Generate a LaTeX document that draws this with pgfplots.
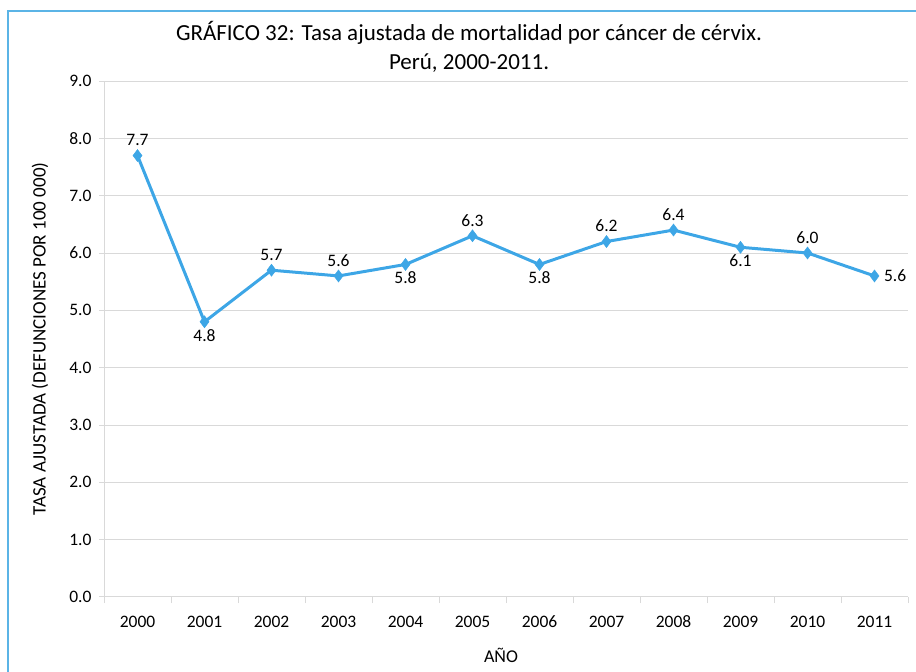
\documentclass[border=0pt]{standalone}
\usepackage{fontspec}
\setmainfont{Carlito}
\usepackage{pgfplots}
\pgfplotsset{compat=1.18}
\definecolor{serie}{RGB}{61,166,230}
\definecolor{framec}{RGB}{91,180,230}
\definecolor{gridc}{RGB}{217,217,217}
\begin{document}
\begin{tikzpicture}[x=1pt,y=1pt]
\path[use as bounding box] (0,0) rectangle (916,672);
\draw[framec, line width=2pt] (8,0) -- (8,661) -- (916,661);
\begin{axis}[
  at={(104pt,75pt)}, anchor=south west,
  scale only axis, width=804pt, height=516pt,
  xmin=-0.5, xmax=11.5, ymin=0, ymax=9,
  axis lines*=left,
  axis line style={gridc, line width=1pt},
  ytick={0,1,...,9},
  xtick={0,1,...,11},
  xticklabels={2000,2001,2002,2003,2004,2005,2006,2007,2008,2009,2010,2011},
  minor xtick={-0.5,0.5,...,11.5},
  tick align=outside,
  major tick length=5pt, minor tick length=6pt,
  major x tick style={draw=none},
  every tick/.style={gridc, line width=1pt},
  minor tick style={gridc, line width=1pt},
  ymajorgrids, grid style={gridc, line width=1pt},
  /pgf/number format/assume math mode=true,
  yticklabel={\pgfmathprintnumber[fixed,fixed zerofill,precision=1]{\tick}},
  yticklabel style={font=\fontsize{17.5}{17.5}\selectfont, xshift=-4pt},
  xticklabel style={font=\fontsize{17.5}{17.5}\selectfont, text height=12pt, text depth=0pt, yshift=-10pt},
  title={GRÁFICO 32: Tasa ajustada de mortalidad por cáncer de cérvix.\\Perú, 2000-2011.},
  title style={font=\fontsize{23}{29}\selectfont, align=center, at={(axis description cs:0.454,1.054)}, anchor=center},
  xlabel={AÑO},
  xlabel style={font=\fontsize{18}{18}\selectfont, at={(axis description cs:0.4938,-0.1124)}, anchor=center},
  ylabel={TASA AJUSTADA (DEFUNCIONES POR 100 000)},
  ylabel style={font=\fontsize{19}{19}\selectfont, at={(axis description cs:-0.0796,0.5)}, rotate=0, anchor=center},
  clip=false,
  nodes near coords style={font=\fontsize{17.5}{17.5}\selectfont, text=black},
]
\addplot[serie, line width=3pt, mark=diamond*, mark size=6pt, mark options={fill=serie, draw=serie, line width=0.5pt}]
  coordinates {(0,7.7) (1,4.8) (2,5.7) (3,5.6) (4,5.8) (5,6.3) (6,5.8) (7,6.2) (8,6.4) (9,6.1) (10,6.0) (11,5.6)};
% labels above
\addplot[draw=none, mark=none, nodes near coords={\pgfmathprintnumber[fixed,fixed zerofill,precision=1]{\pgfplotspointmeta}}, point meta=y,
  nodes near coords style={anchor=south, yshift=6pt}]
  coordinates {(0,7.7) (2,5.7) (3,5.6) (5,6.3) (7,6.2) (8,6.4) (10,6.0)};
% labels below
\addplot[draw=none, mark=none, nodes near coords={\pgfmathprintnumber[fixed,fixed zerofill,precision=1]{\pgfplotspointmeta}}, point meta=y,
  nodes near coords style={anchor=north, yshift=-4pt}]
  coordinates {(1,4.8) (4,5.8) (6,5.8) (9,6.1)};
% label right
\addplot[draw=none, mark=none, nodes near coords={\pgfmathprintnumber[fixed,fixed zerofill,precision=1]{\pgfplotspointmeta}}, point meta=y,
  nodes near coords style={anchor=west, xshift=6pt}]
  coordinates {(11,5.6)};
\end{axis}
\end{tikzpicture}
\end{document}
